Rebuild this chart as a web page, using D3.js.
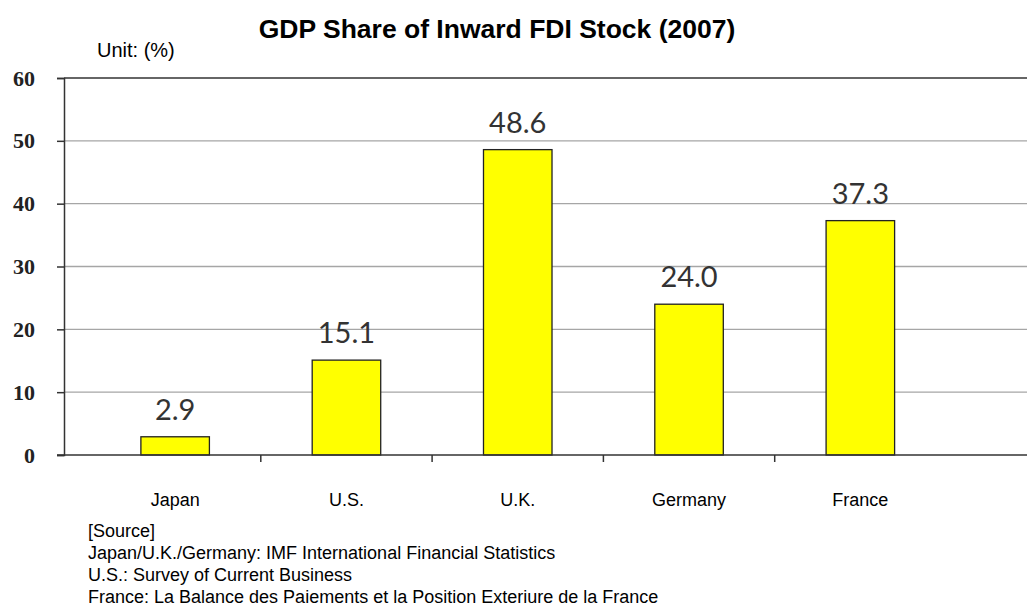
<!DOCTYPE html>
<html><head><meta charset="utf-8">
<script src="https://cdn.jsdelivr.net/npm/d3@7"></script>
<style>body{margin:0;background:#fff}svg{display:block}</style>
</head><body>
<script>
const categories = ["Japan", "U.S.", "U.K.", "Germany", "France"];
const values = [2.9, 15.1, 48.6, 24.0, 37.3];
const yTicks = [0, 10, 20, 30, 40, 50, 60];
const sourceLines = ["[Source]",
  "Japan/U.K./Germany: IMF International Financial Statistics",
  "U.S.: Survey of Current Business",
  "France: La Balance des Paiements et la Position Exteriure de la France"];

const W = 1027, H = 612;
const svg = d3.select("body").append("svg").attr("width", W).attr("height", H);
const plotL = 64, plotR = 1027, plotT = 78, plotB = 455;

const y = d3.scaleLinear().domain([0, 60]).range([plotB, plotT]);
const x = d3.scaleBand().domain(categories).range([89.5, 946]).paddingInner(0.6).paddingOuter(0.3);

// gridlines
svg.append("g").selectAll("line").data(yTicks.filter(d => d > 0)).join("line")
  .attr("x1", plotL).attr("x2", plotR)
  .attr("y1", d => y(d)).attr("y2", d => y(d))
  .attr("stroke", d => d === 60 ? "#333" : "#a6a6a6").attr("stroke-width", d => d === 60 ? 1.5 : 1.3);

// y axis
const yAxis = svg.append("g").attr("transform", `translate(${plotL},0)`)
  .call(d3.axisLeft(y).tickValues(yTicks).tickSize(7).tickPadding(22));
yAxis.select(".domain").attr("stroke", "#333").attr("stroke-width", 1.5);
yAxis.selectAll(".tick line").attr("stroke", "#333").attr("stroke-width", 1.5);
yAxis.selectAll(".tick text").attr("font-family", "'Liberation Serif', serif")
  .attr("font-weight", "bold").attr("font-size", 22).attr("fill", "#222");

// bars
svg.append("g").selectAll("rect").data(values).join("rect")
  .attr("x", (d, i) => x(categories[i]))
  .attr("width", x.bandwidth())
  .attr("y", d => y(d))
  .attr("height", d => y(0) - y(d))
  .attr("fill", "#ffff00").attr("stroke", "#222").attr("stroke-width", 1.3);

// x axis
const xAxis = svg.append("g").attr("transform", `translate(0,${plotB})`)
  .call(d3.axisBottom(x).tickSize(0).tickPadding(38));
xAxis.select(".domain").remove();
svg.append("line").attr("x1", plotL - 7).attr("x2", plotR).attr("y1", plotB).attr("y2", plotB)
  .attr("stroke", "#333").attr("stroke-width", 1.5);
const step = x.step();
const bounds = categories.slice(1).map(c => x(c) - (step - x.bandwidth()) / 2);
svg.append("g").selectAll("line").data(bounds).join("line")
  .attr("x1", d => d).attr("x2", d => d).attr("y1", plotB).attr("y2", plotB + 7)
  .attr("stroke", "#333").attr("stroke-width", 1.5);
xAxis.selectAll(".tick text").attr("font-family", "'Liberation Sans', Arial, sans-serif")
  .attr("font-size", 18).attr("fill", "#000");

// value labels
svg.append("g").selectAll("text").data(values).join("text")
  .attr("x", (d, i) => x(categories[i]) + x.bandwidth() / 2)
  .attr("y", d => y(d) - 17)
  .attr("text-anchor", "middle")
  .attr("font-family", "Lato, 'Open Sans', sans-serif").attr("font-size", 29)
  .attr("fill", "#333")
  .text(d => d.toFixed(1));

// title
svg.append("text").attr("x", 497).attr("y", 38).attr("text-anchor", "middle")
  .attr("font-family", "'Liberation Sans', Arial, sans-serif").attr("font-weight", "bold")
  .attr("font-size", 26.5).text("GDP Share of Inward FDI Stock (2007)");
svg.append("text").attr("x", 97).attr("y", 57)
  .attr("font-family", "'Liberation Sans', Arial, sans-serif").attr("font-size", 20)
  .text("Unit: (%)");

// source
svg.append("g").selectAll("text").data(sourceLines).join("text")
  .attr("x", 88).attr("y", (d, i) => 537 + i * 22)
  .attr("font-family", "'Liberation Sans', Arial, sans-serif").attr("font-size", 18)
  .text(d => d);
</script>
</body></html>
